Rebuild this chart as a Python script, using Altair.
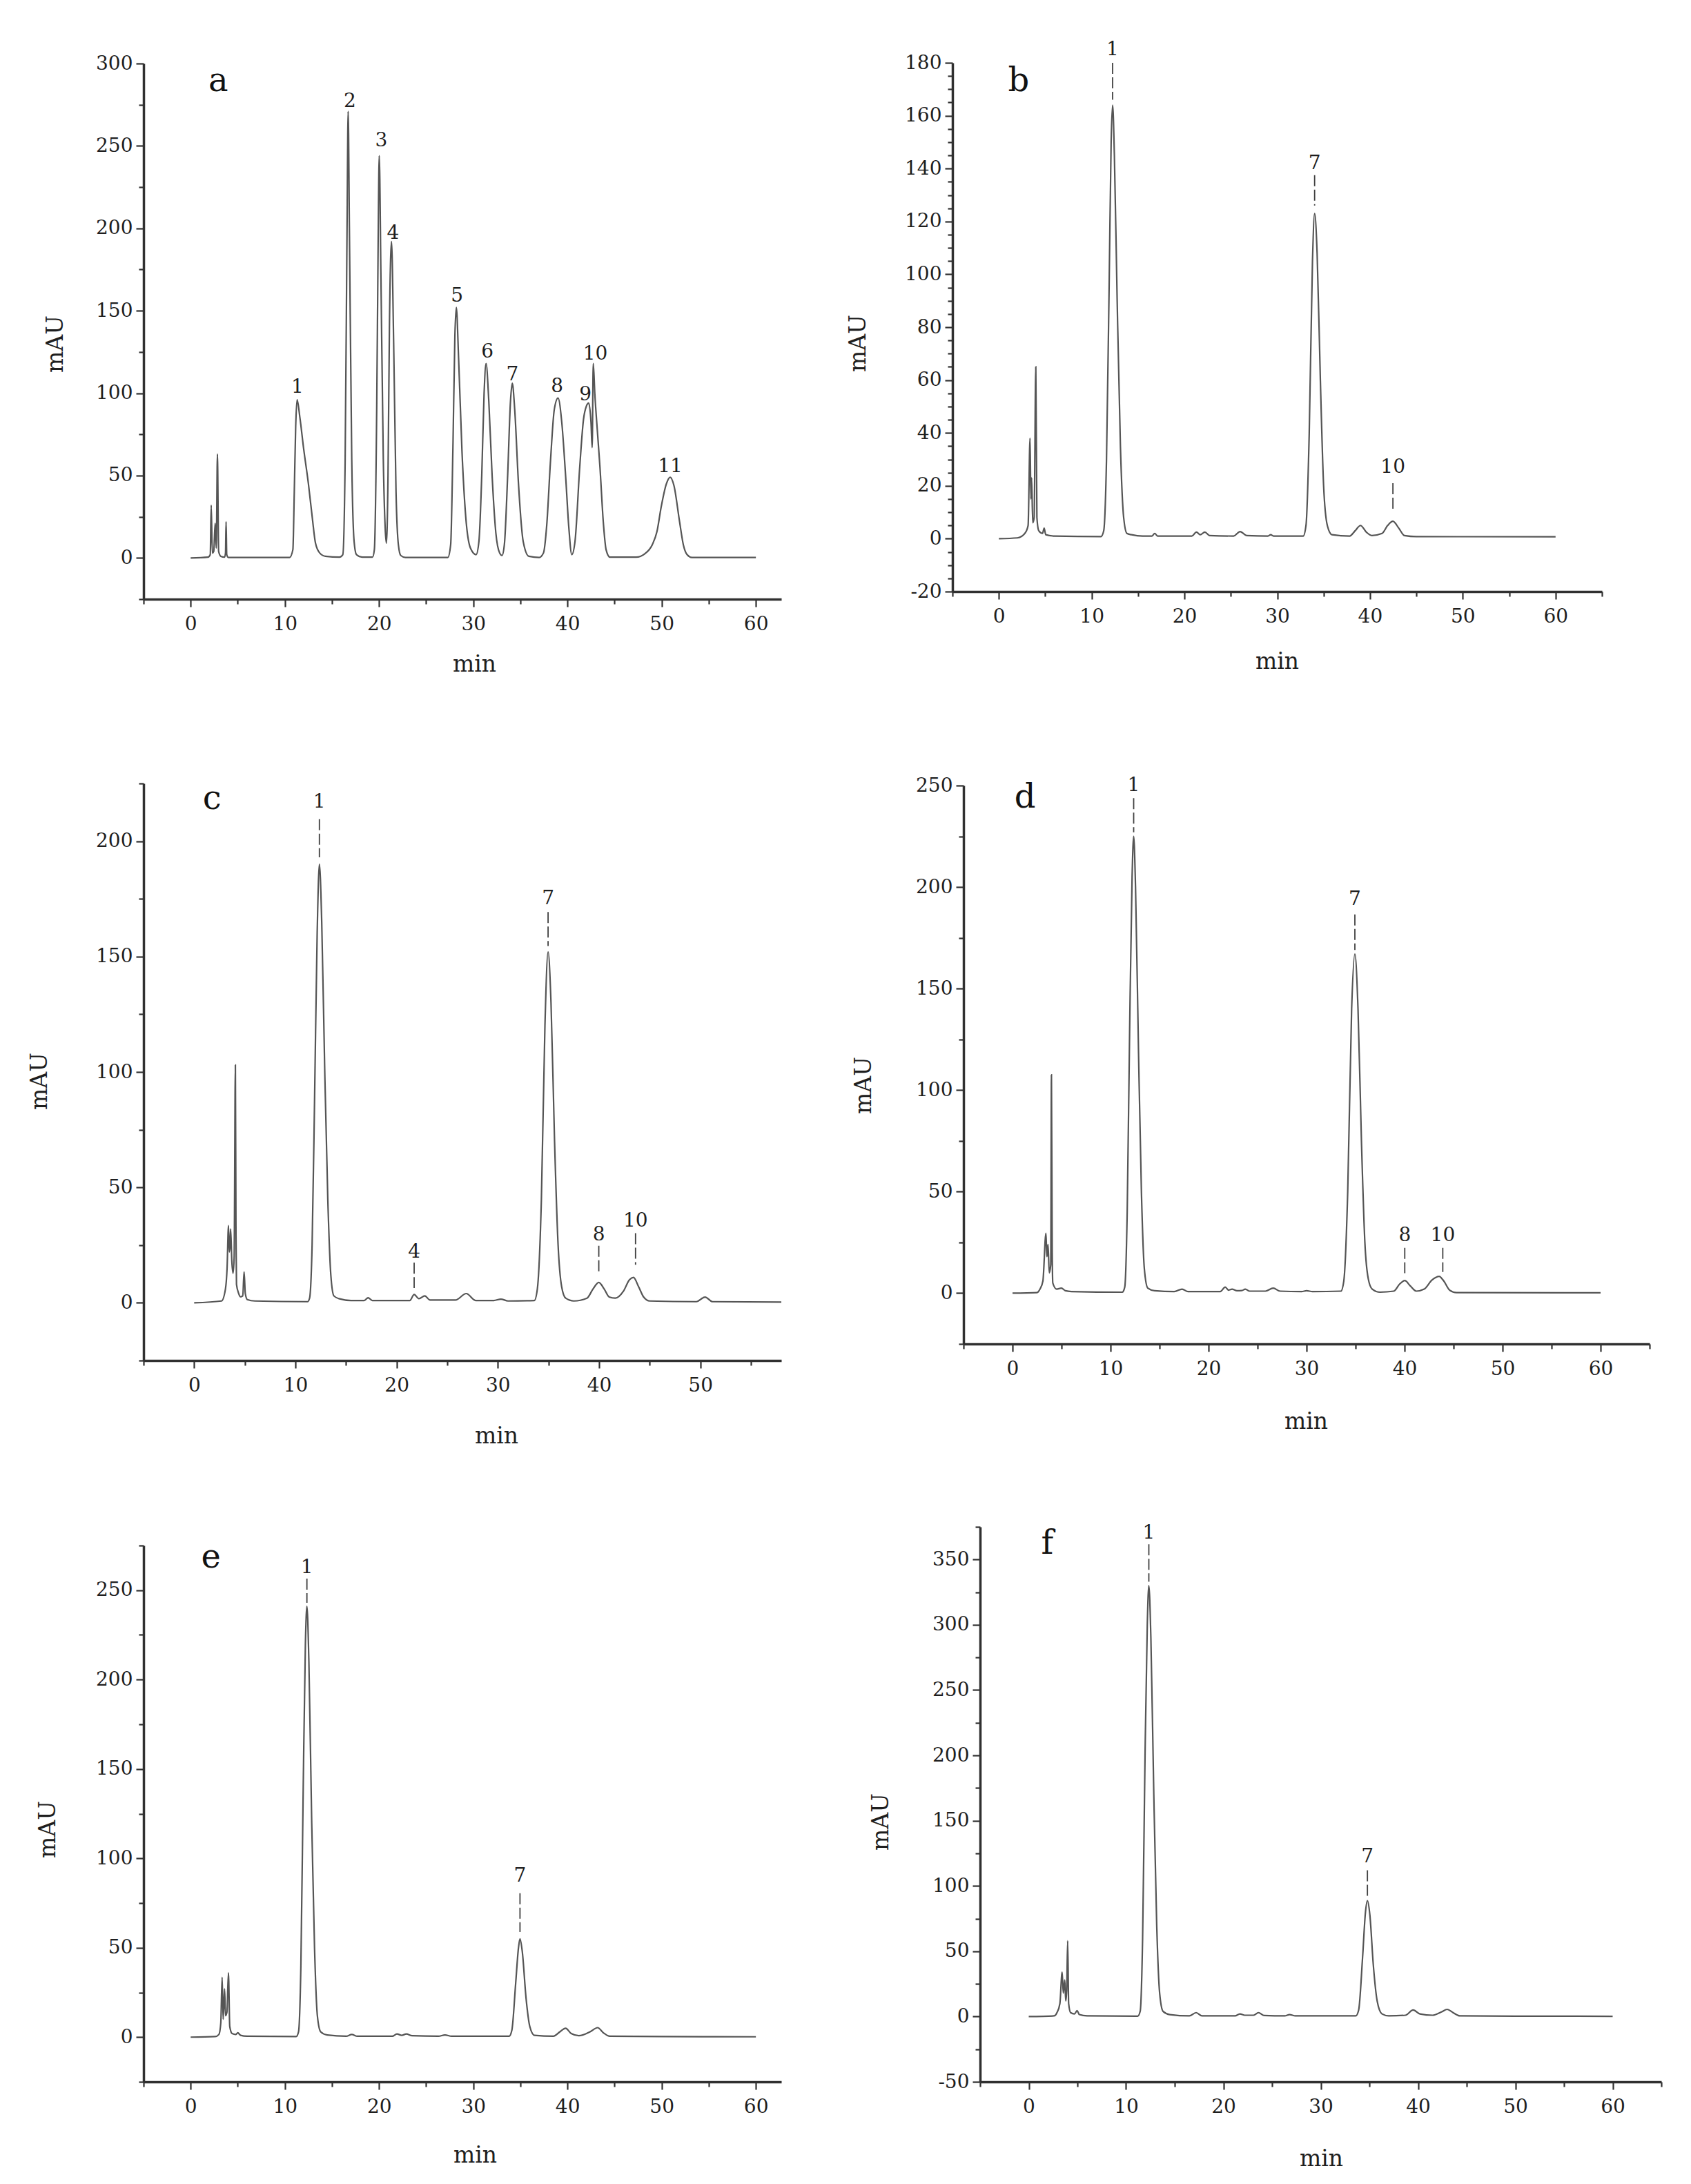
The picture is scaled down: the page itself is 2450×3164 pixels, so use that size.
import altair as alt
import pandas as pd

FONT = "DejaVu Serif"
LINE_COLOR = "#555555"
AXIS_COLOR = "#303030"
TEXT_COLOR = "#1e1e1e"

# ---------------- panel a (standard mixture) ----------------
A_TIME = [0, 1.85, 2.08, 2.18, 2.3, 2.45, 2.6, 2.72, 2.84, 2.97, 3.2, 3.6, 3.7, 3.76, 3.83, 4.0,
          10.5, 10.85, 11.0, 11.15, 11.3, 11.6, 12.0, 12.5, 12.9, 13.25, 13.7, 14.3, 15.8,
          16.15, 16.4, 16.6, 16.72, 16.85, 17.1, 17.35, 17.6, 18.2,
          19.3, 19.5, 19.75, 19.9, 20.02, 20.2, 20.45, 20.65, 20.78,
          20.95, 21.1, 21.32, 21.55, 21.8, 22.05, 22.3, 22.8,
          27.3, 27.6, 27.85, 28.05, 28.2, 28.45, 28.8, 29.2, 29.7, 30.3,
          30.6, 30.9, 31.15, 31.36, 31.65, 32.0, 32.4, 32.8, 33.05,
          33.3, 33.65, 33.95, 34.14, 34.4, 34.8, 35.3, 35.9, 37.0,
          37.45, 37.8, 38.2, 38.6, 39.0, 39.4, 39.8, 40.15, 40.46,
          40.8, 41.3, 41.7, 42.0, 42.25, 42.5, 42.62, 42.74, 42.9, 43.2, 43.45, 43.8, 44.1, 44.5,
          47.3, 48.2, 49.0, 49.5, 49.95, 50.5, 50.9, 51.3, 51.9, 52.3, 52.7, 53.2, 60]
A_MAU = [0, 0.5, 2, 32, 3, 4, 21, 6, 63, 4, 1, 0.5, 3, 22, 2, 0.3,
         0.3, 5, 40, 80, 96, 85, 66, 45, 25, 9, 3, 1, 0.5,
         2, 60, 200, 271, 200, 60, 10, 2, 0.5,
         0.5, 5, 90, 190, 244, 170, 60, 18, 9,
         50, 140, 192, 130, 40, 8, 1.5, 0.3,
         0.3, 8, 70, 135, 152, 120, 65, 25, 6, 2,
         10, 50, 100, 118, 95, 50, 15, 3, 1.5,
         8, 50, 95, 106, 90, 45, 10, 1, 0.3,
         3, 20, 59, 90, 97, 82, 50, 18, 2,
         10, 55, 84, 92, 94, 82, 67, 118, 100, 75, 55, 22, 5, 0.5,
         0.5, 2.5, 8, 16, 31, 45, 49, 44, 22, 8, 2, 0.3, 0.3]
A_LAB = ["1", "2", "3", "4", "5", "6", "7", "8", "9", "10", "11"]
A_LAB_T = [11.33, 16.9, 20.24, 21.48, 28.27, 31.5, 34.15, 38.9, 41.9, 42.95, 50.9]
A_LAB_Y = [103.5, 277, 253, 197, 159, 125, 111, 104, 99, 123.6, 55.3]
A_LEAD_TOP = []
A_LEAD_BOT = []

# ---------------- panel b ----------------
B_TIME = [0, 2.0, 2.8, 3.15, 3.36, 3.45, 3.53, 3.65, 3.8, 3.98, 4.1, 4.3, 4.7, 4.88, 5.05, 6.0,
          11.0, 11.3, 11.6, 11.9, 12.1, 12.26, 12.45, 12.75, 13.1, 13.45, 13.8, 14.3, 15.5, 16.5, 16.8, 17.1,
          20.8, 21.3, 21.7, 22.2, 22.7, 25.3, 26.0, 26.7, 29.0, 29.3, 29.6,
          32.8, 33.1, 33.45, 33.8, 34.03, 34.3, 34.65, 35.0, 35.4, 35.9,
          37.8, 38.4, 38.98, 39.6, 40.2, 41.3, 41.9, 42.47, 43.1, 43.7, 45.0, 60]
B_MAU = [0, 0.3, 2, 5, 38, 15, 23, 6, 8, 65, 8, 3, 2, 4, 1.5, 1,
         0.8, 3, 30, 100, 150, 164, 145, 90, 35, 8, 2, 1.5, 1, 1, 2, 1,
         1, 2.5, 1.5, 2.5, 1.2, 1, 2.7, 1.2, 1, 1.5, 1,
         1, 5, 40, 105, 123, 108, 60, 20, 5, 1.5,
         1, 3, 5, 2.5, 1.2, 2, 5, 6.6, 4, 1.2, 0.8, 0.7]
B_LAB = ["1", "7", "10"]
B_LAB_T = [12.26, 34.03, 42.47]
B_LAB_Y = [185, 142, 27]
B_LEAD_TOP = [180, 137.5, 21]
B_LEAD_BOT = [166, 126, 10.5]

# ---------------- panel c ----------------
C_TIME = [0, 2.7, 3.09, 3.25, 3.39, 3.47, 3.55, 3.6, 3.72, 3.84, 3.95, 4.07, 4.13, 4.18, 4.4, 4.57, 4.8, 4.93, 5.05, 5.25,
          6.0, 11.2, 11.4, 11.65, 11.9, 12.15, 12.37, 12.6, 12.9, 13.2, 13.5, 13.8, 14.3, 15.5, 16.8, 17.18, 17.6,
          21.3, 21.73, 22.2, 22.78, 23.3, 25.8, 26.88, 27.8, 29.6, 30.3, 31.0,
          33.6, 33.9, 34.3, 34.65, 34.96, 35.25, 35.6, 35.95, 36.3, 36.7, 37.5,
          38.8, 39.4, 39.97, 40.5, 41.0, 41.6, 42.4, 43.0, 43.4, 43.9, 44.4, 45.0, 49.6, 50.47, 51.2, 58]
C_MAU = [0, 0.8, 6, 15, 33.4, 22, 25, 32, 18, 12.8, 20, 103, 30, 8, 4, 2.6, 3, 13.4, 4, 1.4,
         0.8, 0.5, 2, 25, 90, 160, 190, 165, 100, 45, 12, 3, 1.8, 1, 1, 2.2, 1,
         1, 3.6, 1.8, 3, 1.2, 1.2, 4, 1, 1, 1.6, 0.8,
         1, 6, 45, 120, 152, 130, 70, 25, 7, 2, 0.8,
         2, 6, 8.8, 6, 2.5, 2, 5, 10, 11, 7, 2.5, 0.8, 0.5, 2.5, 0.5, 0.3]
C_LAB = ["1", "4", "7", "8", "10"]
C_LAB_T = [12.37, 21.73, 34.96, 39.97, 43.6]
C_LAB_Y = [217, 22, 175, 29.3, 35.3]
C_LEAD_TOP = [209.5, 17.4, 169.3, 24.7, 30.2]
C_LEAD_BOT = [193, 6.4, 154.6, 12.8, 16.5]

# ---------------- panel d ----------------
D_TIME = [0, 2.5, 2.8, 3.1, 3.41, 3.5, 3.55, 3.62, 3.75, 3.9, 3.97, 4.05, 4.11, 4.5, 4.98, 5.4, 6.0,
          11.2, 11.45, 11.7, 11.95, 12.2, 12.36, 12.55, 12.85, 13.15, 13.45, 13.8, 14.5, 16.5, 17.3, 17.9,
          21.2, 21.7, 22.05, 22.4, 22.9, 23.4, 23.75, 24.2, 25.8, 26.6, 27.3, 29.5, 30.0, 30.6,
          33.5, 33.8, 34.2, 34.6, 34.93, 35.25, 35.6, 35.95, 36.3, 36.7, 37.5,
          38.9, 39.5, 40.02, 40.6, 41.2, 42.0, 42.8, 43.53, 44.0, 44.6, 45.3, 60]
D_MAU = [0, 0.3, 2, 6, 29.5, 18, 20, 24, 10, 14, 107.5, 20, 5, 2, 2.5, 1.2, 0.8,
         0.5, 3, 40, 130, 205, 225, 200, 120, 50, 12, 2.5, 1.2, 0.8, 2, 0.8,
         0.8, 3, 1.5, 2, 1.2, 1.3, 2, 1, 1, 2.5, 1, 0.8, 1.2, 0.8,
         1, 6, 50, 140, 167, 140, 75, 25, 7, 2, 0.5,
         1, 4.5, 6.2, 3.5, 1, 2, 6.5, 8.3, 6, 1.5, 0.3, 0.2]
D_LAB = ["1", "7", "8", "10"]
D_LAB_T = [12.36, 34.93, 40.02, 43.9]
D_LAB_Y = [250, 194, 28.5, 28.5]
D_LEAD_TOP = [243.8, 186.5, 22.3, 22.3]
D_LEAD_BOT = [227, 169, 9.8, 10.4]

# ---------------- panel e ----------------
E_TIME = [0, 2.6, 3.0, 3.2, 3.34, 3.45, 3.6, 3.7, 3.85, 4.01, 4.15, 4.4, 4.8, 5.0, 5.3, 6.0,
          11.2, 11.45, 11.7, 11.95, 12.18, 12.34, 12.55, 12.85, 13.15, 13.45, 13.8, 14.5, 16.5, 17.1, 17.7,
          21.4, 21.9, 22.4, 22.9, 23.5, 26.3, 27.0, 27.7,
          33.8, 34.1, 34.5, 34.8, 34.96, 35.2, 35.6, 36.0, 36.5,
          38.5, 39.2, 39.8, 40.4, 41.2, 42.4, 43.2, 43.8, 44.5, 50.0, 60]
E_MAU = [0, 0.3, 1.5, 8, 33.5, 10, 27, 12, 14, 36, 6, 2, 1.5, 2.5, 1, 0.5,
         0.3, 3, 40, 140, 220, 241, 210, 120, 50, 12, 3, 1.2, 0.5, 1.5, 0.5,
         0.5, 1.8, 1, 1.8, 0.8, 0.5, 1.2, 0.5,
         0.5, 4, 30, 50, 55, 48, 22, 6, 1,
         0.5, 3, 5, 2, 0.8, 3, 5.3, 2.5, 0.5, 0.3, 0.2]
E_LAB = ["1", "7"]
E_LAB_T = [12.34, 34.96]
E_LAB_Y = [262.5, 90]
E_LEAD_TOP = [256.5, 80.5]
E_LEAD_BOT = [243, 58.8]

# ---------------- panel f ----------------
F_TIME = [0, 2.6, 2.9, 3.2, 3.43, 3.55, 3.7, 3.8, 3.9, 4.0, 4.1, 4.3, 4.7, 4.97, 5.2, 6.0,
          11.2, 11.45, 11.7, 11.95, 12.18, 12.34, 12.55, 12.85, 13.15, 13.45, 13.8, 14.5, 16.5, 17.2, 17.8,
          21.2, 21.7, 22.2, 23.1, 23.6, 24.2, 26.3, 26.8, 27.4,
          33.6, 33.9, 34.3, 34.6, 34.8, 35.05, 35.4, 35.8, 36.3, 37.0,
          38.7, 39.5, 40.2, 41.5, 42.4, 43.0, 43.6, 44.3, 50.0, 60]
F_MAU = [0, 0.5, 3, 10, 34, 18, 28, 12, 20, 58, 10, 3, 2, 4.5, 1.5, 0.5,
         0.3, 4, 60, 200, 300, 330, 290, 170, 70, 18, 4, 1.5, 0.5, 3, 0.5,
         0.5, 2, 1, 1, 3, 0.8, 0.5, 1.5, 0.5,
         0.5, 5, 45, 80, 88.7, 78, 40, 12, 2, 0.5,
         1, 5, 2, 1, 3.5, 5.5, 3, 0.5, 0.3, 0.2]
F_LAB = ["1", "7"]
F_LAB_T = [12.34, 34.8]
F_LAB_Y = [370, 122.4]
F_LEAD_TOP = [361.6, 112]
F_LEAD_BOT = [333, 90]

# panel letters and their positions (min, mAU)
LETTERS = ["a", "b", "c", "d", "e", "f"]
LETTER_T = [2.94, 2.13, 1.76, 1.27, 2.15, 1.9]
LETTER_Y = [289, 173, 218, 244, 268, 362]

# axis tick values
X_TICKS_60 = [-5, 0, 5, 10, 15, 20, 25, 30, 35, 40, 45, 50, 55, 60]
X_TICKS_65 = X_TICKS_60 + [65]
X_TICKS_55 = [-5, 0, 5, 10, 15, 20, 25, 30, 35, 40, 45, 50, 55]
A_Y_TICKS = list(range(-25, 301, 25))
B_Y_TICKS = list(range(-20, 181, 5))
C_Y_TICKS = list(range(-25, 226, 25))
D_Y_TICKS = list(range(-25, 251, 25))
E_Y_TICKS = list(range(-25, 276, 25))
F_Y_TICKS = list(range(-50, 376, 25))


def cond_size(test, major, minor):
    return {"condition": {"test": test, "value": major}, "value": minor}


def panel(time, mau, lab, lab_t, lab_y, lead_top, lead_bot, idx,
          xdom, xticks, ydom, yticks, ymajor,
          w, h, xoff, yoff, ytx, yty, xtx, xty):
    assert len(time) == len(mau)
    df = pd.DataFrame({"t": time, "v": mau})
    xscale = alt.Scale(domain=xdom, range=[xoff, w], nice=False, zero=False)
    yscale = alt.Scale(domain=ydom, range=[h, yoff], nice=False, zero=False)
    common = dict(domainColor=AXIS_COLOR, domainWidth=3.5, tickColor=AXIS_COLOR, tickWidth=2.2,
                  grid=False, labelFont=FONT, labelFontSize=28, labelColor=TEXT_COLOR,
                  titleFont=FONT, titleFontSize=33, titleFontWeight="normal", titleColor=TEXT_COLOR,
                  labelOverlap=False, labelFlush=False,
                  titleAlign="center", titleBaseline="middle")
    xaxis = alt.Axis(values=xticks, title="min", orient="bottom",
                     labelExpr="datum.value % 10 === 0 ? '' + datum.value : ''",
                     tickSize=cond_size("datum.value % 10 === 0", 11, 7),
                     labelPadding=11, titleX=xtx, titleY=xty, titleAngle=0, **common)
    yaxis = alt.Axis(values=yticks, title="mAU", orient="left", offset=-xoff,
                     labelExpr=f"datum.value % {ymajor} === 0 ? '' + datum.value : ''",
                     tickSize=cond_size(f"datum.value % {ymajor} === 0", 11, 7),
                     labelPadding=5, titleX=ytx, titleY=yty, titleAngle=270, **common)
    X = alt.X("t:Q", scale=xscale, axis=xaxis)
    Y = alt.Y("v:Q", scale=yscale, axis=yaxis)

    layers = [alt.Chart(df).mark_line(color=LINE_COLOR, strokeWidth=2.2, interpolate="monotone")
              .encode(x=X, y=Y)]
    if lead_top:
        ldf = pd.DataFrame({"t": lab_t[:len(lead_top)], "v": lead_top, "v2": lead_bot})
        layers.append(alt.Chart(ldf).mark_rule(color="#404040", strokeWidth=1.8, strokeDash=[16, 5])
                      .encode(x=X, y=Y, y2="v2:Q"))
    tdf = pd.DataFrame({"t": lab_t, "v": lab_y, "lab": lab})
    layers.append(alt.Chart(tdf).mark_text(font=FONT, fontSize=28, color=TEXT_COLOR,
                                            align="center", baseline="middle")
                  .encode(x=X, y=Y, text="lab:N"))
    ldf2 = pd.DataFrame({"t": [LETTER_T[idx]], "v": [LETTER_Y[idx]], "lab": [LETTERS[idx]]})
    layers.append(alt.Chart(ldf2).mark_text(font=FONT, fontSize=48, color="#111",
                                             align="center", baseline="middle")
                  .encode(x=X, y=Y, text="lab:N"))
    return alt.layer(*layers).properties(width=w, height=h)


pa = panel(A_TIME, A_MAU, A_LAB, A_LAB_T, A_LAB_Y, A_LEAD_TOP, A_LEAD_BOT, 0,
           [-5, 62.7], X_TICKS_60, [-25, 300], A_Y_TICKS, 50,
           924, 777, 0, 1, -128, 407, 479, 94)
pb = panel(B_TIME, B_MAU, B_LAB, B_LAB_T, B_LAB_Y, B_LEAD_TOP, B_LEAD_BOT, 1,
           [-5, 65], X_TICKS_65, [-20, 180], B_Y_TICKS, 20,
           941, 766, 0, 0, -137, 406, 470, 101)
pc = panel(C_TIME, C_MAU, C_LAB, C_LAB_T, C_LAB_Y, C_LEAD_TOP, C_LEAD_BOT, 2,
           [-5, 58], X_TICKS_55, [-25, 225], C_Y_TICKS, 50,
           924, 862, 0, 26, -151, 457, 511, 109)
pd_ = panel(D_TIME, D_MAU, D_LAB, D_LAB_T, D_LAB_Y, D_LEAD_TOP, D_LEAD_BOT, 3,
            [-5, 65], X_TICKS_65, [-25, 250], D_Y_TICKS, 50,
            1010, 838, 16, 29, -145, 463, 512, 112)
pe = panel(E_TIME, E_MAU, E_LAB, E_LAB_T, E_LAB_Y, E_LEAD_TOP, E_LEAD_BOT, 4,
           [-5, 62.7], X_TICKS_60, [-25, 275], E_Y_TICKS, 50,
           924, 804, 0, 27, -139, 438, 480, 106)
pf = panel(F_TIME, F_MAU, F_LAB, F_LAB_T, F_LAB_Y, F_LEAD_TOP, F_LEAD_BOT, 5,
           [-5, 65], X_TICKS_65, [-50, 375], F_Y_TICKS, 50,
           1027, 804, 40, 0, -144, 427, 534, 111)

chart = alt.concat(pa, pb, pc, pd_, pe, pf, columns=2, bounds="flush", align="each",
                   spacing={"row": 241, "column": 248}).properties(
    padding={"left": 33, "top": 49, "right": 12, "bottom": 12},
    background="white",
).configure_view(strokeWidth=0)

chart.save("out.html", embed_options={"renderer": "svg", "actions": False})
